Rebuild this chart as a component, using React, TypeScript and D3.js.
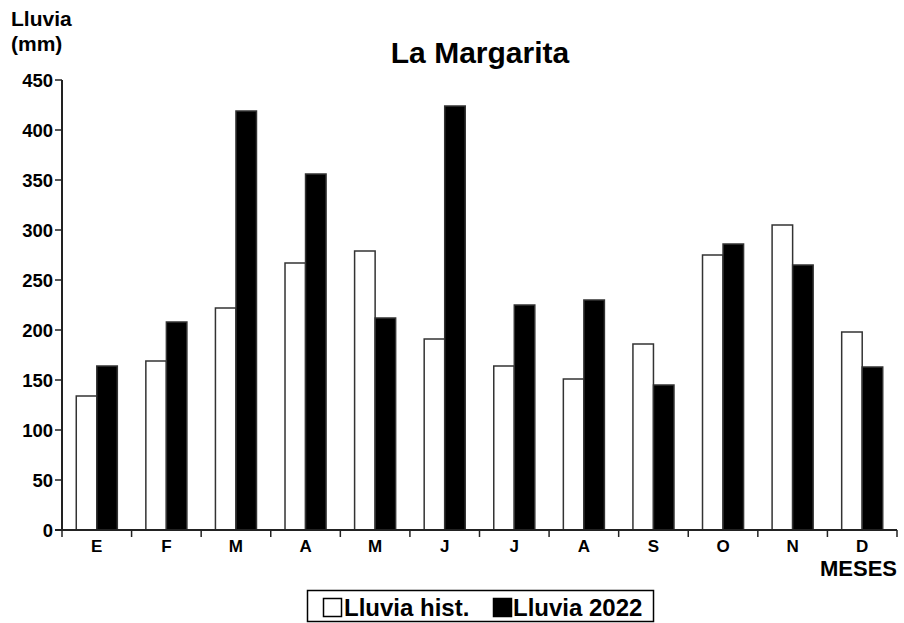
import React from "react";
import * as d3 from "d3";

const months = ["E", "F", "M", "A", "M", "J", "J", "A", "S", "O", "N", "D"];
const histValues = [134, 169, 222, 267, 279, 191, 164, 151, 186, 275, 305, 198];
const values2022 = [164, 208, 419, 356, 212, 424, 225, 230, 145, 286, 265, 163];
const yTicks = [0, 50, 100, 150, 200, 250, 300, 350, 400, 450];
const seriesNames = ["Lluvia hist.", "Lluvia 2022"];

const W = 904;
const H = 623;
const left = 62;
const right = 897;
const top = 80;
const bottom = 530;
const FONT = "'Liberation Sans', Arial, sans-serif";

export default function App() {
  const x = d3
    .scaleBand<number>()
    .domain(d3.range(months.length))
    .range([left, right])
    .paddingInner(0)
    .paddingOuter(0);
  const y = d3.scaleLinear().domain([0, 450]).range([bottom, top]);
  const bw = x.bandwidth();
  const barW = bw * 0.295;

  return (
    <svg
      width={W}
      height={H}
      style={{ position: "absolute", left: 0, top: 0, background: "#fff" }}
      fontFamily={FONT}
    >
      <rect x={0} y={0} width={W} height={H} fill="#fff" />
      {/* axis titles */}
      <text x={11} y={26} fontSize={21} fontWeight="bold" fill="#000">
        Lluvia
      </text>
      <text x={11} y={51} fontSize={21} fontWeight="bold" fill="#000">
        (mm)
      </text>
      <text
        x={480}
        y={63}
        fontSize={30}
        fontWeight="bold"
        textAnchor="middle"
        fill="#000"
      >
        La Margarita
      </text>

      {/* bars */}
      {months.map((m, i) => {
        const cx = (x(i) as number) + bw / 2;
        return (
          <g key={i}>
            <rect
              x={cx - barW}
              y={y(histValues[i])}
              width={barW}
              height={bottom - y(histValues[i])}
              fill="#fff"
              stroke="#333"
              strokeWidth={1.5}
            />
            <rect
              x={cx}
              y={y(values2022[i])}
              width={barW}
              height={bottom - y(values2022[i])}
              fill="#000"
              stroke="#333"
              strokeWidth={1.5}
            />
          </g>
        );
      })}

      {/* y axis */}
      <line x1={left} x2={left} y1={top} y2={bottom} stroke="#222" strokeWidth={2} />
      {yTicks.map((t) => (
        <g key={t}>
          <line x1={left - 7} x2={left} y1={y(t)} y2={y(t)} stroke="#222" strokeWidth={1.5} />
          <text
            x={left - 9}
            y={y(t) + 6.5}
            fontSize={18.5}
            fontWeight="bold"
            textAnchor="end"
            fill="#000"
          >
            {t}
          </text>
        </g>
      ))}

      {/* x axis */}
      <line x1={left - 7} x2={right} y1={bottom} y2={bottom} stroke="#222" strokeWidth={2} />
      {d3.range(months.length + 1).map((i) => {
        const xx = i < months.length ? (x(i) as number) : right;
        return (
          <line key={i} x1={xx} x2={xx} y1={bottom} y2={bottom + 7} stroke="#222" strokeWidth={1.5} />
        );
      })}
      {months.map((m, i) => (
        <text
          key={i}
          x={(x(i) as number) + bw / 2}
          y={552}
          fontSize={17}
          fontWeight="bold"
          textAnchor="middle"
          fill="#000"
        >
          {m}
        </text>
      ))}
      <text x={897} y={576} fontSize={22} fontWeight="bold" textAnchor="end" fill="#000">
        MESES
      </text>

      {/* legend */}
      <rect x={307.5} y={590.5} width={346} height={31} fill="#fff" stroke="#000" strokeWidth={1.5} />
      <rect x={323.5} y={598.5} width={18} height={18} fill="#fff" stroke="#000" strokeWidth={1.5} />
      <text x={344} y={616} fontSize={24} fontWeight="bold" fill="#000">
        {seriesNames[0]}
      </text>
      <rect x={493.5} y={598.5} width={18} height={18} fill="#000" stroke="#000" strokeWidth={1.5} />
      <text x={513} y={616} fontSize={24} fontWeight="bold" fill="#000">
        {seriesNames[1]}
      </text>
    </svg>
  );
}
